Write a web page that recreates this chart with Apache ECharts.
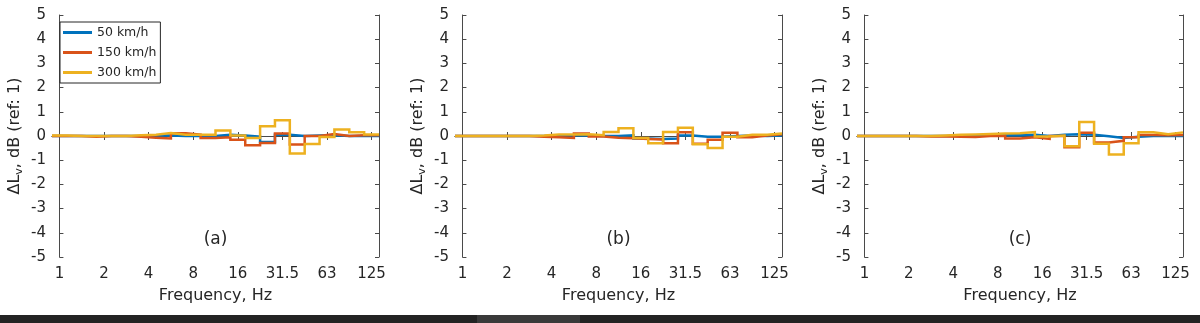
<!DOCTYPE html>
<html>
<head>
<meta charset="utf-8">
<script src="https://cdn.jsdelivr.net/npm/echarts@6/dist/echarts.min.js"></script>
<style>html,body{margin:0;padding:0;background:#fff}#c{width:1200px;height:323px}</style>
</head>
<body>
<div id="c"></div>
<script>
// One-third octave band centre frequencies (Hz) – x categories
const bands = ['1','1.25','1.6','2','2.5','3.15','4','5','6.3','8','10','12.5','16','20','25','31.5','40','50','63','80','100','125'];
const yTicks = [-5,-4,-3,-2,-1,0,1,2,3,4,5];
const speeds = ['50 km/h','150 km/h','300 km/h'];
const panelTags = ['(a)','(b)','(c)'];

// Panel (a)
const a50  = [0,0,0,0,0,0,0.02,0.02,0,0,0,0.05,0.02,-0.03,-0.25,0.05,0,0.02,0.03,0,0,0];
const a150 = [0,0,-0.03,0,0,-0.03,-0.07,-0.1,0.11,0.06,-0.08,-0.05,-0.15,-0.38,-0.29,0.1,-0.35,0,0.08,0,0.03,0.03];
const a300 = [0.02,0,0,0,0,0.03,0.05,0.12,0.05,0.05,0.05,0.23,0.02,-0.08,0.4,0.65,-0.72,-0.33,-0.04,0.27,0.15,0.06];
// Panel (b)
const b50  = [0,0,0,0,0,0,0.03,0.03,0.02,0,0,0.03,-0.1,-0.12,-0.1,0.02,-0.03,-0.03,0,0.02,0,0.02];
const b150 = [0,0,0,0,0,-0.03,-0.05,-0.08,0.1,-0.02,-0.07,-0.09,-0.12,-0.14,-0.3,0.15,-0.32,-0.16,0.13,-0.05,0.02,0.07];
const b300 = [0,0,0,0,0,0.02,0.06,0.06,0.07,0.03,0.17,0.32,-0.08,-0.3,0.17,0.34,-0.34,-0.5,-0.03,0.05,0.05,0.1];
// Panel (c)
const c50  = [0,0,0,0,0,0,0.02,0.02,0.02,0.03,0.03,0.05,0,0.05,0.07,0.05,-0.01,-0.08,-0.03,0,0,0];
const c150 = [0,0,0,0,-0.02,-0.02,-0.03,-0.04,0,0,-0.1,-0.05,-0.12,0,-0.47,0.13,-0.27,-0.2,-0.05,0.04,0.03,0.04];
const c300 = [0,0,0,0,0,0.02,0.05,0.06,0.08,0.1,0.11,0.16,-0.02,0.02,-0.42,0.58,-0.32,-0.76,-0.3,0.15,0.07,0.15];

const panels = [[a50,a150,a300],[b50,b150,b300],[c50,c150,c300]];
const colors = ['#0072BD','#D95319','#EDB120'];
const FONT = '"DejaVu Sans", sans-serif';
const INK = '#262626';
const BOX = '#4a4a4a';

const gridLeft = [52, 455, 857];
const gridWidth = [327, 327, 326];
const gridTop = 15, gridHeight = 242;

// staircase: each band value held across its band (index k-0.5 .. k+0.5)
function stairs(vals){
  const pts = [];
  vals.forEach((v,k)=>{ pts.push([k-0.5, v]); pts.push([k+0.5, v]); });
  return pts;
}

const grid = [], xAxis = [], yAxis = [], series = [], graphic = [];
panels.forEach((pv, p) => {
  grid.push({left: gridLeft[p], top: gridTop, width: gridWidth[p], height: gridHeight, containLabel: false});
  xAxis.push({
    type: 'category', gridIndex: p, position: 'bottom', data: bands, boundaryGap: true,
    axisLine: {show: true, lineStyle: {color: BOX, width: 1}},
    axisTick: {show: true, inside: true, length: 4, alignWithLabel: true, interval: 2, lineStyle: {color: BOX}},
    axisLabel: {interval: 2, margin: 10, fontSize: 15, fontFamily: FONT, color: INK},
    splitLine: {show: false},
    name: 'Frequency, Hz', nameLocation: 'middle', nameGap: 31,
    nameTextStyle: {fontSize: 16, fontFamily: FONT, color: INK}
  });
  xAxis.push({
    type: 'category', gridIndex: p, position: 'top', data: bands, boundaryGap: true,
    axisLine: {show: true, lineStyle: {color: BOX, width: 1}},
    axisTick: {show: true, inside: true, length: 4, alignWithLabel: true, interval: 2, lineStyle: {color: BOX}},
    axisLabel: {show: false}, splitLine: {show: false}
  });
  xAxis.push({type: 'value', gridIndex: p, min: -0.5, max: 21.5, show: false});
  yAxis.push({
    type: 'value', gridIndex: p, position: 'left', min: yTicks[0], max: yTicks[yTicks.length-1], interval: 1,
    axisLine: {show: true, lineStyle: {color: BOX, width: 1}},
    axisTick: {show: true, inside: true, length: 4, lineStyle: {color: BOX}},
    axisLabel: {margin: 6, fontSize: 15, fontFamily: FONT, color: INK},
    splitLine: {show: false},
    name: '{a|ΔL}{s|v}{a|, dB (ref: 1)}', nameLocation: 'middle', nameRotate: 90, nameGap: 27,
    nameTextStyle: {rich: {
      a: {fontSize: 16, fontFamily: FONT, color: INK, lineHeight: 20},
      s: {fontSize: 11, fontFamily: FONT, color: INK, lineHeight: 20, verticalAlign: 'bottom'}
    }}
  });
  yAxis.push({
    type: 'value', gridIndex: p, position: 'right', min: yTicks[0], max: yTicks[yTicks.length-1], interval: 1,
    axisLine: {show: true, lineStyle: {color: BOX, width: 1}},
    axisTick: {show: true, inside: true, length: 4, lineStyle: {color: BOX}},
    axisLabel: {show: false}, splitLine: {show: false}
  });
  pv.forEach((vals, s) => {
    series.push({
      type: 'line', name: speeds[s], xAxisIndex: 3*p+2, yAxisIndex: 2*p,
      data: stairs(vals), showSymbol: false, symbol: 'none', animation: false,
      lineStyle: {color: colors[s], width: 2.5, join: 'miter'}, itemStyle: {color: colors[s]}, z: 2+s
    });
  });
  graphic.push({
    type: 'text', x: gridLeft[p] + gridWidth[p]/2, y: 240, z: 10,
    style: {text: panelTags[p], font: '17px ' + FONT, fill: INK, align: 'center', verticalAlign: 'middle'}
  });
});

graphic.push({type: 'rect', shape: {x: 0, y: 315, width: 1200, height: 8}, style: {fill: '#232323'}, z: 0});
graphic.push({type: 'rect', shape: {x: 477, y: 315, width: 103, height: 8}, style: {fill: '#3a3a3a'}, z: 1});

const chart = echarts.init(document.getElementById('c'), null, {renderer: 'canvas'});
chart.setOption({
  animation: false,
  backgroundColor: '#ffffff',
  grid, xAxis, yAxis, series, graphic,
  legend: {
    data: speeds, orient: 'vertical', left: 60, top: 22,
    icon: 'rect', itemWidth: 29, itemHeight: 3, itemGap: 7,
    padding: [4, 4, 4, 3], borderColor: INK, borderWidth: 1, backgroundColor: '#ffffff',
    textStyle: {fontSize: 12.5, fontFamily: FONT, color: INK},
    selectedMode: false
  }
});
</script>
</body>
</html>
